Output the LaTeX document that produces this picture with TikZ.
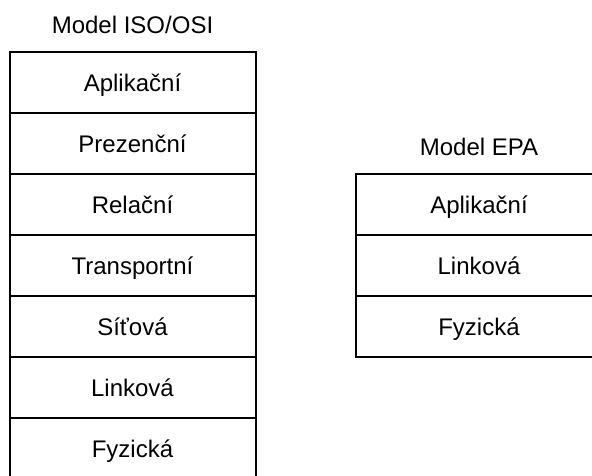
\documentclass[tikz,border=0pt]{standalone}
\usepackage{fontspec}
\setmainfont{Liberation Sans}
\usetikzlibrary{positioning}
\tikzset{
  layer/.style={draw, line width=2pt, rectangle, outer sep=0pt, inner sep=0pt,
    minimum width=246pt, minimum height=61pt, text height=17pt, text depth=0pt,
    font=\fontsize{24}{28}\selectfont},
  title/.style={inner sep=0pt, text height=17pt, text depth=0pt,
    font=\fontsize{24}{28}\selectfont}
}
\begin{document}
\begin{tikzpicture}[x=1pt,y=1pt]
  \useasboundingbox (0,0) rectangle (592,-475);
  % ISO/OSI stack
  \node[layer] (iso1) at (132.5,-82.5) {Aplikační};
  \node[layer,below=0pt of iso1] (iso2) {Prezenční};
  \node[layer,below=0pt of iso2] (iso3) {Relační};
  \node[layer,below=0pt of iso3] (iso4) {Transportní};
  \node[layer,below=0pt of iso4] (iso5) {Síťová};
  \node[layer,below=0pt of iso5] (iso6) {Linková};
  \node[layer,below=0pt of iso6] (iso7) {Fyzická};
  \node[title] (isotitle) at (132.5,-25) {Model ISO/OSI};
  % EPA stack
  \node[layer] (epa1) at (479,-204.5) {Aplikační};
  \node[layer,below=0pt of epa1] (epa2) {Linková};
  \node[layer,below=0pt of epa2] (epa3) {Fyzická};
  \node[title] (epatitle) at (479,-147) {Model EPA};
\end{tikzpicture}
\end{document}
